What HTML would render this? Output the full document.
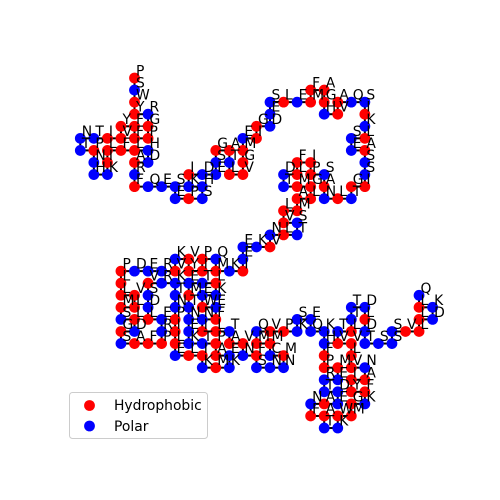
<!DOCTYPE html>
<html>
<head>
<meta charset="utf-8">
<title>HP lattice protein fold</title>
<style>
html,body{margin:0;padding:0;background:#fff;width:500px;height:500px;overflow:hidden}
svg{display:block}
text{font-family:"DejaVu Sans",sans-serif;font-size:13.89px;fill:#000}
</style>
</head>
<body>
<svg id="chart" xmlns="http://www.w3.org/2000/svg" width="500" height="500" viewBox="0 0 500 500">
  <rect x="0" y="0" width="500" height="500" fill="#fff"/>
  <g id="bonds"></g>
  <g id="points"></g>
  <g id="labels"></g>
  <g>
    <rect x="69.5" y="392.5" width="138" height="46" rx="3" ry="3" fill="#fff" fill-opacity="0.8" stroke="#ccc" stroke-width="1"/>
    <circle cx="89.5" cy="405.5" r="5.4" fill="#ff0000"/>
    <text x="114" y="410.2">Hydrophobic</text>
    <circle cx="89.5" cy="426" r="5.4" fill="#0000ff"/>
    <text x="114" y="430.8">Polar</text>
  </g>
</svg>
<script>
const residues = [
  "P","S","W","Y","R","G","P","F","F","Y",
  "V","I","T","N","T","P","N","H","K","I",
  "L","F","L","H","D","A","R","F","Q","E",
  "S","E","P","S","H","K","I","D","E","S",
  "G","A","T","L","V","G","M","E","I","G",
  "D","E","S","L","E","M","F","A","G","H",
  "V","A","Q","S","I","K","L","S","E","A",
  "S","S","I","G","T","L","N","A","S","P",
  "I","F","L","D","T","M","G","L","A","M",
  "L","V","S","T","L","N","V","K","E","E",
  "I","K","M","Q","P","I","Y","V","K","V",
  "R","E","D","P","L","L","V","L","M","S",
  "L","D","G","S","A","F","P","R","E","L",
  "D","S","V","R","K","T","N","P","I","L",
  "E","L","I","K","M","K","E","A","P","T",
  "K","E","N","T","M","E","T","L","K","E",
  "W","E","F","N","I","L","T","A","V","N",
  "F","S","N","N","M","C","M","M","Q","V",
  "P","K","S","E","Q","K","H","F","P","M",
  "E","R","T","D","E","A","N","F","A","T",
  "K","W","M","G","K","F","Y","I","A","N",
  "V","L","V","V","T","L","T","T","D","L",
  "D","T","S","S","S","V","L","L","D","K",
  "L","Q"
];
const columnValues = [
  4,4,4,4,5,5,5,4,4,3,
  3,2,1,0,0,1,1,1,2,2,
  2,3,4,5,5,4,4,4,5,6,
  7,7,8,9,9,8,8,9,10,10,
  10,11,11,11,12,12,12,12,13,13,
  14,14,14,15,16,17,17,18,18,18,
  19,19,20,21,21,21,21,20,20,21,
  21,21,21,20,20,19,18,18,18,17,
  17,16,16,15,15,16,17,17,16,16,
  15,15,16,16,15,14,14,13,12,12,
  12,11,10,10,9,9,8,8,7,7,
  6,5,4,3,3,3,4,4,3,3,
  4,4,3,3,4,5,6,6,6,5,
  5,5,5,6,7,7,7,7,7,7,
  7,8,9,9,10,11,11,10,10,9,
  8,8,8,8,8,8,9,10,10,9,
  9,10,10,9,9,10,11,11,12,12,
  13,13,14,15,15,14,14,13,13,14,
  15,16,16,17,17,18,18,18,18,19,
  19,18,18,19,19,18,17,17,18,18,
  19,19,20,20,21,21,20,20,21,21,
  20,20,20,19,19,20,20,20,21,21,
  21,21,22,23,23,24,25,25,26,26,
  25,25
];
const rowValues = [
  0,1,2,3,3,4,5,5,4,4,
  5,5,5,5,6,6,7,8,8,7,
  6,6,6,6,7,7,8,9,9,9,
  9,10,10,10,9,9,8,8,8,7,
  6,6,7,8,8,7,6,5,5,4,
  4,3,2,2,2,2,1,1,2,3,
  3,2,2,2,3,4,5,5,6,6,
  7,8,9,9,10,10,10,9,8,8,
  7,7,8,8,9,9,9,10,10,11,
  11,12,12,13,13,13,14,14,14,15,
  16,16,16,15,15,16,16,15,15,16,
  16,16,16,16,17,18,18,19,19,20,
  20,21,21,22,22,22,22,21,20,20,
  19,18,17,17,17,18,19,20,21,22,
  23,23,23,24,24,24,23,23,22,22,
  22,21,20,19,18,17,17,17,18,18,
  19,19,20,20,21,21,21,22,22,23,
  23,24,24,24,23,23,22,22,21,21,
  21,21,20,20,21,21,22,23,24,24,
  25,25,26,26,27,27,27,28,28,29,
  29,28,28,27,27,26,26,25,25,24,
  24,23,22,22,21,21,20,19,19,20,
  21,22,22,22,21,21,21,20,20,19,
  19,18
];
const hydrophobicLetters = ["A","V","I","L","M","F","W","Y","G","P"];

const NS = "http://www.w3.org/2000/svg";
function xScale(col){ return 80.3 + col * 13.55; }
function yScale(row){ return 78 + row * 12.07; }

const bondsGroup = document.getElementById("bonds");
const pointsGroup = document.getElementById("points");
const labelsGroup = document.getElementById("labels");

for (let i = 0; i < residues.length - 1; i++) {
  const bond = document.createElementNS(NS, "line");
  bond.setAttribute("x1", xScale(columnValues[i]));
  bond.setAttribute("y1", yScale(rowValues[i]));
  bond.setAttribute("x2", xScale(columnValues[i + 1]));
  bond.setAttribute("y2", yScale(rowValues[i + 1]));
  bond.setAttribute("stroke", "#000");
  bond.setAttribute("stroke-width", "2");
  
  
  bondsGroup.appendChild(bond);
}
for (let i = 0; i < residues.length; i++) {
  const isHydrophobic = hydrophobicLetters.includes(residues[i]);
  const point = document.createElementNS(NS, "circle");
  point.setAttribute("cx", xScale(columnValues[i]));
  point.setAttribute("cy", yScale(rowValues[i]));
  point.setAttribute("r", "5.4");
  point.setAttribute("fill", isHydrophobic ? "#ff0000" : "#0000ff");
  
  
  pointsGroup.appendChild(point);
}
for (let i = 0; i < residues.length; i++) {
  const label = document.createElementNS(NS, "text");
  label.setAttribute("x", xScale(columnValues[i]) + 1.5);
  label.setAttribute("y", yScale(rowValues[i]) - 2.5);
  label.textContent = residues[i];
  
  
  labelsGroup.appendChild(label);
}
</script>
</body>
</html>
